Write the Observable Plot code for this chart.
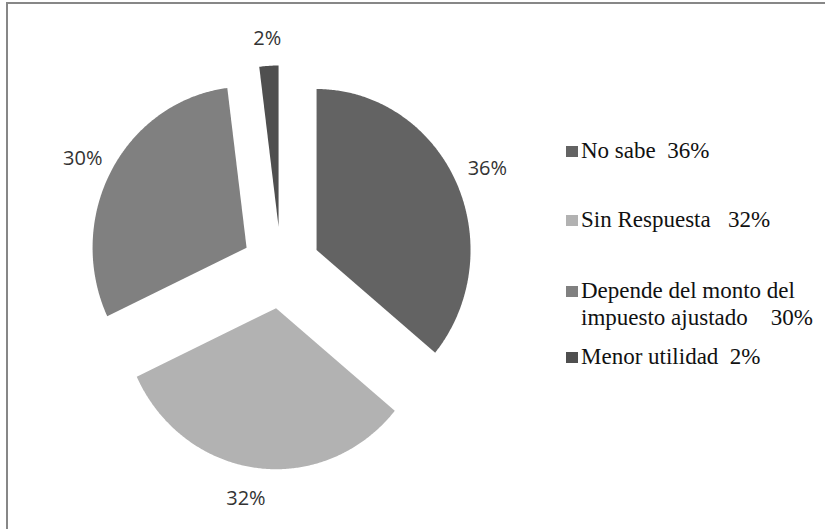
<!DOCTYPE html>
<html>
<head>
<meta charset="utf-8">
<script src="https://cdn.jsdelivr.net/npm/d3@7"></script>
<script src="https://cdn.jsdelivr.net/npm/@observablehq/plot@0.6"></script>
<style>
  html, body { margin: 0; padding: 0; background: #fff; overflow: hidden; }
  #wrap { position: relative; width: 825px; height: 529px; overflow: hidden; background: #fff; }
  #chart { position: absolute; left: 0; top: 0; }
  #frame { position: absolute; left: 6px; top: 2px; width: 900px; height: 600px;
           border-left: 2px solid #878787; border-top: 2px solid #878787; box-sizing: border-box; pointer-events: none; }
  #legend { position: absolute; left: 566px; top: 0; font-family: "Liberation Serif", "Times New Roman", serif;
            font-size: 23px; line-height: 27px; color: #111; }
  .item { position: absolute; left: 0; width: 260px; }
  .sw { position: absolute; left: 0; top: 9px; width: 12px; height: 11px; }
  .txt { display: block; margin-left: 15px; width: 244px; white-space: pre-wrap; }
</style>
</head>
<body>
<div id="wrap">
  <div id="chart"></div>
  <div id="legend"></div>
  <div id="frame"></div>
</div>
<script>
// ---- data ----
const categories = ["No sabe", "Sin Respuesta", "Depende del monto del impuesto ajustado", "Menor utilidad"];
const values = [36, 32, 30, 2];
const percentLabels = ["36%", "32%", "30%", "2%"];

// ---- style / layout ----
const colors = ["#636363", "#b2b2b2", "#808080", "#4f4f4f"];
const legendSpacers = ["  ", "   ", "    ", "  "];
const legendTops = [137, 206, 277, 343];
const labelNudgeDeg = [0.6, 2.2, -1.2, 0];
const labelRadius = [1.22, 1.2, 1.2, 1.17];
const W = 825, H = 529;
const CX = 280.5, CY = 267, RX = 154, RY = 161;
const EXPLODE = 0.255;

// ---- pie geometry via d3.pie ----
const arcs = d3.pie().sort(null).value(d => d)(values);
const slicePts = [];
const labelPts = [];
arcs.forEach((a, i) => {
  const mid = (a.startAngle + a.endAngle) / 2;
  const vx = EXPLODE * Math.sin(mid), vy = EXPLODE * Math.cos(mid);
  slicePts.push({k: i, x: vx, y: vy});
  const n = Math.max(2, Math.ceil((a.endAngle - a.startAngle) / (Math.PI / 360)));
  for (let j = 0; j <= n; j++) {
    const t = a.startAngle + (a.endAngle - a.startAngle) * j / n;
    slicePts.push({k: i, x: vx + Math.sin(t), y: vy + Math.cos(t)});
  }
  slicePts.push({k: i, x: vx, y: vy});
  const la = mid + labelNudgeDeg[i] * Math.PI / 180;
  labelPts.push({k: i, x: vx + labelRadius[i] * Math.sin(la), y: vy + labelRadius[i] * Math.cos(la), text: percentLabels[i]});
});

const plot = Plot.plot({
  width: W,
  height: H,
  margin: 0,
  style: {background: "transparent"},
  x: {domain: [-CX / RX, (W - CX) / RX], axis: null},
  y: {domain: [-(H - CY) / RY, CY / RY], axis: null},
  color: {type: "identity"},
  marks: [
    Plot.line(slicePts, {x: "x", y: "y", z: "k", fill: d => colors[d.k], stroke: "none", curve: "linear"}),
    Plot.text(labelPts, {x: "x", y: "y", text: "text", fontFamily: "Open Sans, sans-serif", fontSize: 20, fill: "#333"})
  ]
});
document.getElementById("chart").appendChild(plot);

// ---- legend ----
const legend = document.getElementById("legend");
categories.forEach((c, i) => {
  const item = document.createElement("div");
  item.className = "item";
  item.style.top = legendTops[i] + "px";
  const sw = document.createElement("span");
  sw.className = "sw";
  sw.style.background = colors[i];
  const txt = document.createElement("span");
  txt.className = "txt";
  txt.textContent = c + legendSpacers[i] + values[i] + "%";
  item.appendChild(sw);
  item.appendChild(txt);
  legend.appendChild(item);
});
</script>
</body>
</html>
